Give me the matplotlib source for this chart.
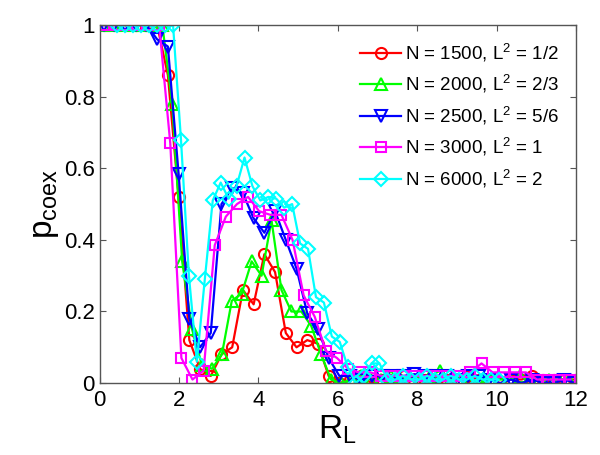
import numpy as np
import matplotlib
matplotlib.use("Agg")
import matplotlib.pyplot as plt

plt.rcParams["font.family"] = ["Liberation Sans", "DejaVu Sans"]
plt.rcParams["mathtext.fontset"] = "custom"
plt.rcParams["mathtext.rm"] = "Liberation Sans"
plt.rcParams["mathtext.it"] = "Liberation Sans"

# sampling grids (R_L) per system size
x_1500 = np.round(0.1 + 0.27 * np.arange(45), 3)
x_2000 = np.round(0.08 + 0.25 * np.arange(48), 3)
x_2500 = np.round(0.1 + 0.27 * np.arange(45), 3)
x_3000 = np.round(0.1 + 0.28 * np.arange(43), 3)
x_6000 = np.round(0.45 + 0.2 * np.arange(49), 3)

p_1500 = [1, 1, 1, 1, 1, 1, 0.86, 0.52, 0.12, 0.04, 0.02, 0.08, 0.10, 0.26, 0.22,
          0.36, 0.31, 0.14, 0.10, 0.12, 0.11, 0.02, 0.0,
          0.01, 0.02, 0.0, 0.01, 0.01, 0.02, 0.01, 0.01, 0.0, 0.01, 0.01,
          0.02, 0.01, 0.01, 0.0, 0.01, 0.01, 0.02, 0.01, 0.01, 0.01, 0.01]
p_2000 = [1, 1, 1, 1, 1, 1, 1, 0.78, 0.34, 0.15, 0.05, 0.04, 0.08, 0.23, 0.25,
          0.34, 0.30, 0.455, 0.26, 0.20, 0.20, 0.16, 0.08, 0.01,
          0.0, 0.01, 0.02, 0.01, 0.01, 0.02, 0.01, 0.01, 0.01, 0.02, 0.035,
          0.01, 0.01, 0.01, 0.0, 0.01, 0.01, 0.01, 0.02, 0.01, 0.01, 0.01,
          0.01, 0.01]
p_2500 = [1, 1, 1, 1, 1, 0.96, 0.94, 0.585, 0.18, 0.10, 0.14, 0.50, 0.545, 0.53,
          0.46, 0.42, 0.48, 0.40, 0.32, 0.195, 0.15, 0.07, 0.02,
          0.02, 0.01, 0.02, 0.02, 0.02, 0.02, 0.025, 0.02, 0.02, 0.02, 0.01,
          0.02, 0.02, 0.01, 0.0, 0.01, 0.0, 0.01, 0.0, 0.0, 0.01, 0.0]
p_3000 = [1, 1, 1, 1, 1, 1, 0.67, 0.07, 0.01, 0.035, 0.385, 0.465, 0.50, 0.52,
          0.48, 0.47, 0.47, 0.40, 0.245, 0.185, 0.09, 0.07,
          0.04, 0.03, 0.03, 0.02, 0.02, 0.02, 0.02, 0.02, 0.02, 0.02, 0.02,
          0.03, 0.055, 0.03, 0.03, 0.03, 0.03, 0.01, 0.01, 0.01, 0.01]
p_6000 = [1, 1, 1, 1, 1, 1, 1, 1,
          0.68, 0.30, 0.06, 0.29, 0.51, 0.56, 0.515, 0.55, 0.63, 0.55, 0.51,
          0.52, 0.515, 0.49, 0.50, 0.39, 0.375, 0.24, 0.225, 0.13, 0.115,
          0.045, 0.0, 0.02, 0.055, 0.055, 0.01,
          0.01, 0.02, 0.01, 0.01, 0.02, 0.01, 0.01, 0.02, 0.01, 0.01, 0.02,
          0.01, 0.01, 0.01]

series = [
    (x_1500, p_1500, "#ff0000", "o", 8, r"N = 1500, L$^2$ = 1/2"),
    (x_2000, p_2000, "#00ff00", "^", 8, r"N = 2000, L$^2$ = 2/3"),
    (x_2500, p_2500, "#0000ff", "v", 8, r"N = 2500, L$^2$ = 5/6"),
    (x_3000, p_3000, "#ff00ff", "s", 7, r"N = 3000, L$^2$ = 1"),
    (x_6000, p_6000, "#00ffff", "D", 7, r"N = 6000, L$^2$ = 2"),
]

fig = plt.figure(figsize=(6.0, 4.55), dpi=100)
ax = fig.add_axes([0.166, 0.158, 0.794, 0.787])

for xs, ys, col, mk, ms, lab in series:
    ax.plot(xs, ys, color=col, marker=mk, markersize=ms, mfc="none",
            mec=col, mew=1.5, lw=1.6, label=lab)

ax.set_xlim(0, 12)
ax.set_ylim(0, 1)
ax.set_xticks([0, 2, 4, 6, 8, 10, 12])
ax.set_yticks([0, 0.2, 0.4, 0.6, 0.8, 1])
ax.set_yticklabels(["0", "0.2", "0.4", "0.6", "0.8", "1"])
ax.tick_params(direction="in", top=True, right=True, labelsize=16,
               length=4, color="#555555")
ax.tick_params(axis="x", pad=5)
for sp in ax.spines.values():
    sp.set_color("#555555")
    sp.set_linewidth(1.0)

ax.set_xlabel(r"$\mathregular{R_L}$", fontsize=24, labelpad=2)
ax.set_ylabel(r"$\mathregular{p_{coex}}$", fontsize=24, labelpad=2)

ax.legend(loc="upper right", frameon=False, fontsize=13.5, handlelength=2.2,
          handletextpad=0.2, labelspacing=0.5, borderaxespad=0.5)

fig.savefig("out.png", dpi=100)
